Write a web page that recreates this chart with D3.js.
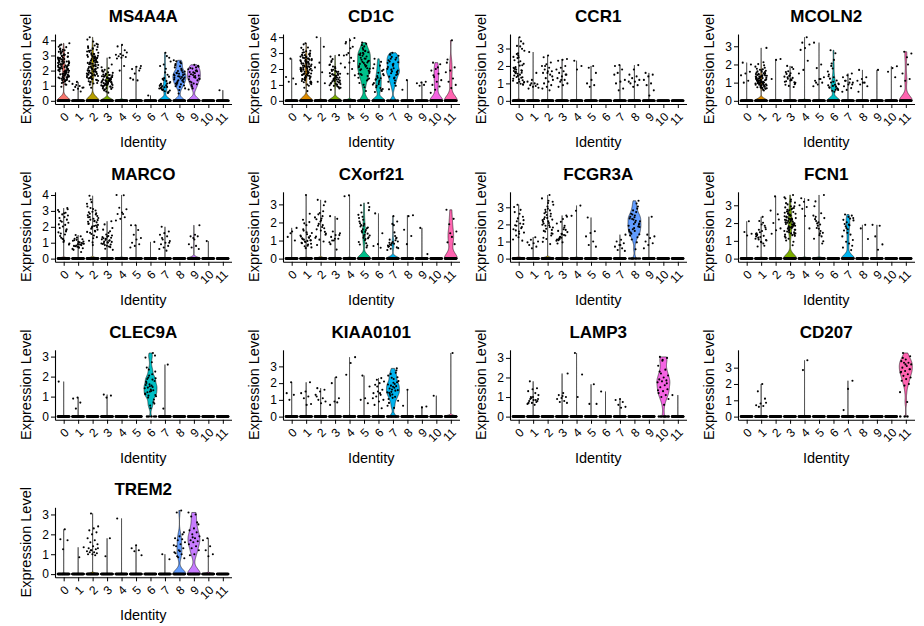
<!DOCTYPE html>
<html>
<head>
<meta charset="utf-8">
<script src="https://cdn.jsdelivr.net/npm/d3@7"></script>
<style>
  body { margin: 0; background: #fff; }
  svg { display: block; }
  text { font-family: "Liberation Sans", Arial, Helvetica, sans-serif; fill: #000; }
</style>
</head>
<body>
<svg id="chart" width="924" height="626"></svg>
<script>
// ---- cluster identities, sizes and colours ----
const clusters = ["0", "1", "2", "3", "4", "5", "6", "7", "8", "9", "10", "11"];
const clusterCells = [2100, 1900, 1700, 1500, 1200, 1100, 1000, 900, 800, 600, 200, 150];
const clusterColors = ["#F8766D", "#DE8C00", "#B79F00", "#7CAE00", "#00BA38", "#00C08B",
                       "#00BFC4", "#00B4F0", "#619CFF", "#C77CFF", "#F564E3", "#FF64B0"];

// ---- genes, in panel order ----
const genes = ["MS4A4A", "CD1C", "CCR1", "MCOLN2", "MARCO", "CXorf21", "FCGR3A",
               "FCN1", "CLEC9A", "KIAA0101", "LAMP3", "CD207", "TREM2"];

// For each gene: fraction of cells with non-zero expression per cluster,
// and the non-zero expression values of cells per cluster (space separated).
const MS4A4A_pct = [0.4, 0.02, 0.4, 0.35, 0.008, 0.01, 0.003, 0.45, 0.8, 0.75, 0, 0.01];
const MS4A4A_vals = [
  "2.31 1.74 3.12 2.05 1.42 2.66 3.55 1.18 2.48 1.96 2.83 1.61 3.38 2.22 1.35 2.74 1.88 3.02 2.57 1.53 2.14 3.81 1.27 2.39 2.91 1.69 3.24 2.01 1.46 2.62 1.92 3.67 2.27 1.58 2.79 1.09 2.44 3.16 1.81 2.18 1.38 2.96 2.53 1.66 3.45 2.09 1.23 2.71 1.99 0.93 2.35 3.08 1.49 2.6 1.77 2.87 1.31 3.3 2.12 1.56 2.42 1.85 2.98 1.63 2.24 3.41 1.52 2.69 2.03 1.79 3.19 2.36 1.44 2.81 1.97 2.58 1.29 3.05 2.15 1.72 2.47 3.58 1.91 2.29 1.6 2.76 2.07 1.39 3.26 2.51 1.84 2.19 2.93 1.47 2.64 1.06 2.4 1.99 3.35 1.75 2.11 2.85 1.54 2.33 3.72 1.68 2.56 1.95 2.2 1.36",
  "1.25 1.12 0.98 0.92 0.86 0.8 0.72 0.62 1.05 0.88",
  "2.12 3.05 1.64 2.78 4.21 1.37 2.45 3.6 1.92 2.26 2.98 1.15 3.31 2.58 1.8 4.05 2.07 1.51 2.86 3.44 1.72 2.39 0.86 3.18 2.63 1.98 3.77 1.43 2.51 2.94 1.26 2.19 3.92 1.86 2.71 1.58 3.26 2.33 1.07 2.82 1.69 3.5 2.04 2.67 1.33 3.1 2.42 1.9 2.15 1.76 3.66 1.21 2.55 2.9 1.47 2.29 3.15 1.81 2.66 1.52 3.38 2.08 2.91 1.67 2.47 3.72 1.94 2.23 1.39 2.76 3.02 1.73 2.54 1.18 3.47 2.13 2.83 1.61 2.37 1.96 3.24 2.6 1.45 2.02 2.89 1.84 3.56 2.31 1.29 2.7 2.17 1.56 3.09 2.44 1.78 2.97 1.99 2.52 3.33 1.64",
  "1.42 0.95 1.78 1.21 2.15 0.72 1.56 1.08 1.34 2.85 1.67 0.88 1.19 1.92 1.45 0.61 1.28 1.71 1.03 2.4 1.51 0.82 1.36 1.15 1.85 0.54 1.62 1.25 1.01 2.02 1.39 0.77 1.58 1.12 1.74 0.93 1.31 2.22 1.48 0.68 1.22 1.55 0.98 1.71 1.36 1.05 1.88 1.17 1.44 0.84 1.63 1.29 2.05 1.11 1.52 0.91 1.4 1.76 1.02 1.33 1.59 0.79 1.25 1.95 1.47 1.09 1.68 1.2 0.97 1.38",
  "3.7 3.6 3.35 3.1 3.05 3.0 2.95 2.9 2.85 2.8 2.3 2.0 3.2",
  "2.3 2.25 2.1 2.0 1.8 1.5 1.35 1.4 2.15",
  "0.35",
  "0.92 1.45 0.68 3.18 1.12 0.55 2.4 0.81 1.31 0.97 2.85 0.63 1.06 1.72 0.74 1.24 2.12 0.88 0.59 1.5 0.99 2.96 0.71 1.18 1.88 0.84 0.52 1.38 2.6 1.02 0.77 1.6 0.9 2.3 1.15",
  "1.52 2.05 1.21 1.76 0.92 2.43 1.38 1.63 2.68 1.09 1.85 1.45 0.71 2.21 1.57 1.29 1.94 2.56 1.14 1.7 0.48 1.41 2.12 1.82 1.01 1.6 2.35 1.33 1.97 0.82 1.48 2.61 1.25 1.79 1.67 2.0 1.18 1.54 2.29 0.96 1.88 1.36 1.73 2.48 1.06",
  "1.88 1.42 2.21 1.05 1.67 2.38 1.28 1.95 0.82 2.09 1.53 1.76 2.31 1.15 1.61 2.02 0.94 1.47 1.83 2.17 1.35 1.71 0.75 1.99 1.22 2.26 1.57 1.9 1.1 2.13 1.44 1.64",
  "",
  "0.7"
];

const CD1C_pct = [0.01, 0.35, 0.01, 0.3, 0.01, 0.85, 0.6, 0.9, 0.005, 0.01, 0.5, 0.35];
const CD1C_vals = [
  "2.65 1.5 1.4 1.2 1.05",
  "2.12 1.45 2.78 1.83 3.21 1.12 2.43 1.97 2.65 0.82 2.28 1.66 3.02 1.38 2.51 2.04 1.74 3.55 1.21 2.36 2.89 1.57 2.16 1.91 0.61 2.71 1.48 2.58 3.33 1.8 2.22 1.05 2.47 1.63 2.95 1.29 2.08 2.66 1.95 1.52 3.12 2.33 0.95 1.71 2.55 2.01 1.36 2.82 3.62 1.87 2.4 1.17 2.19 2.25 1.62 2.91 1.33 2.55 1.88 2.07 3.15 1.49 2.38 1.76 2.69 1.15 2.14 2.84 1.95 1.41 2.49 3.35 1.68 2.02 2.76 1.25 2.31 1.83 2.62 1.02 2.2 2.98 1.55 1.9 2.44 3.05 1.72 2.11 1.37 2.58 2.87 1.98 1.6 2.35 1.2 2.72 1.85 2.17",
  "4.0 3.4 2.4 2.1 1.8 1.2 1.1",
  "1.51 1.12 1.83 0.94 2.25 1.34 1.67 0.78 1.42 2.78 1.21 1.95 1.05 1.58 2.51 0.86 1.29 1.74 1.46 2.62 1.17 2.05 0.69 1.63 1.38 2.35 1.01 1.88 2.87 1.25 1.55 0.91 2.15 1.7 1.09 2.44 1.35 1.62 0.98 1.82 1.22 1.47 2.12 1.08 1.71 1.3 0.82 1.58 1.95 1.15 1.41 2.28 1.02 1.66 1.27 1.88",
  "3.95 3.8 3.6 3.4 3.0 2.85 2.7 2.9 2.5 2.4 2.1 2.0 1.7 1.6 3.3 3.7",
  "2.45 1.82 3.12 2.71 1.34 2.95 2.18 3.58 1.62 2.52 0.85 2.88 2.05 3.31 1.45 2.64 1.98 3.05 2.37 1.12 2.79 3.66 1.75 2.26 2.99 1.56 3.21 2.11 0.62 2.58 1.89 3.42 2.32 1.28 2.83 2.02 3.15 1.68 2.49 1.01 2.91 2.2 3.5 1.4 2.66 1.93 2.41 3.02 1.7 2.15",
  "1.42 0.85 1.95 1.18 2.64 0.62 1.55 1.02 2.21 1.33 0.74 1.76 1.11 2.45 0.95 1.61 1.27 0.55 1.88 1.45 2.05 0.81 1.36 1.68 1.05 2.3 0.68",
  "2.05 1.52 2.71 1.85 2.38 1.12 2.92 1.68 2.21 2.55 0.95 1.96 2.83 1.41 2.47 1.79 3.02 2.13 1.28 2.64 1.91 2.32 0.72 1.62 2.76 2.01 1.47 2.9 1.83 2.28 1.2 2.59 1.73 2.42",
  "1.3 0.7",
  "1.2 1.15 1.1 1.0 0.95",
  "2.4 2.3 2.0 1.9 1.7 1.5 1.3 1.2 1.0 0.9 0.7 0.5 2.1 1.6",
  "3.8 2.6 2.1 1.9 1.8 1.4 1.2 1.0 0.8 2.4"
];

const CCR1_pct = [0.015, 0.01, 0.012, 0.012, 0.005, 0.005, 0, 0.01, 0.01, 0.01, 0, 0];
const CCR1_vals = [
  "1.72 2.45 1.15 3.12 1.58 0.95 2.21 1.86 1.32 2.68 1.05 3.65 1.67 2.04 1.43 2.52 0.98 1.79 3.28 1.24 2.33 1.61 1.02 2.87 1.5 1.93 1.18 2.6 1.71 3.41 1.37 2.12 1.1 1.83 2.98 1.55 1.27 2.27 1.66 0.92 2.49 1.45 1.75 3.15 1.08 2.02 1.63 1.35 2.72 1.9",
  "2.8 1.6 1.2 1.1 1.0 0.9 0.95 0.8 0.7 0.85 1.0 0.75",
  "2.6 2.5 2.2 2.1 2.0 1.9 1.8 1.7 1.6 1.6 1.5 1.3 1.2 1.1 1.0 0.9 0.8 0.7 0.6 2.0 1.4 1.7",
  "2.4 2.35 2.3 2.0 1.9 1.8 1.7 1.6 1.5 1.4 1.3 1.2 1.1 1.0 0.9 0.8 1.5 1.2",
  "2.3 2.0 1.8",
  "2.0 1.9 1.6 1.2 1.0 0.9 0.8",
  "",
  "2.05 2.0 1.8 1.6 1.2 1.1 1.0 0.7 0.6 1.5",
  "2.05 1.8 1.5 1.4 1.3 1.2 1.1 1.0 0.9 0.8 1.1",
  "1.6 1.5 1.4 1.2 1.0 0.9 0.6 0.3",
  "",
  ""
];

const MCOLN2_pct = [0.01, 0.3, 0.005, 0.015, 0.005, 0.01, 0.5, 0.015, 0.01, 0.003, 0.005, 0.3];
const MCOLN2_vals = [
  "2.1 1.6 1.5 1.4 1.1 1.0 2.0",
  "1.05 1.42 0.78 1.71 0.95 1.25 2.02 0.66 1.15 1.56 0.88 1.33 2.91 0.72 1.08 1.82 0.99 1.47 0.61 1.21 1.65 0.84 1.12 1.95 0.92 1.38 0.7 1.02 1.52 0.81 1.29 2.12 0.96 1.18 1.6 0.75 1.43 1.01 0.89 1.74 1.11 0.68 1.35 1.24 0.57 1.12 0.85 1.36 0.98 1.58 0.76 1.22 1.04 1.45 0.91 1.68 1.15 0.82 1.29 1.88 0.95 1.06 1.39 0.72 1.19 1.52 0.88 1.27 1.02 1.62 0.79 1.09 1.33 0.94 1.48 1.16 0.86 1.76 1.01 1.24 0.69 1.41 0.97 1.13 1.31",
  "2.3 2.25 1.2",
  "1.21 0.95 1.52 1.08 1.75 0.82 1.33 1.14 1.92 1.02 1.41 0.88 1.26 1.63 0.99 1.18 1.48 0.76 1.37 1.05 1.85 1.29 0.91 1.12 1.58",
  "3.5 3.2 3.1 2.9 2.8 2.2 1.7 1.5",
  "3.2 2.0 1.8 1.3 1.2 1.1 1.0 0.9 0.8 1.2 1.0",
  "0.82 1.35 0.61 1.92 0.95 2.25 0.72 1.12 0.55 1.61 0.88 2.78 0.66 1.05 1.45 0.78 2.05 0.91 0.5 1.22 0.69 1.78 0.85 2.62 1.01 0.6 1.3 0.74",
  "1.5 1.4 1.3 1.2 1.1 1.0 0.9 0.8 0.7 0.6 0.5 1.0 1.1 0.9",
  "1.7 1.3 1.2 1.1 1.0 0.9 0.8 1.0 0.5",
  "1.7",
  "1.9 1.8 1.6 1.3",
  "2.7 2.6 2.4 1.5 1.2 1.1 0.8 2.0"
];

const MARCO_pct = [0.015, 0.02, 0.015, 0.02, 0.005, 0.005, 0.002, 0.01, 0, 0.1, 0.002, 0];
const MARCO_vals = [
  "2.85 1.92 2.45 1.25 3.05 2.12 1.58 2.71 1.05 2.95 1.78 2.32 0.88 2.61 1.42 3.18 2.02 1.65 2.88 1.31 2.25 1.12 2.55 1.85 2.78 0.95 1.52 2.38 3.1 1.21 2.15 1.71",
  "0.95 0.72 1.15 0.85 1.32 0.61 1.02 0.78 1.22 0.91 0.55 1.41 0.82 1.08 0.68 1.25 0.98 0.75 1.12 0.88 1.48 0.65 1.05 0.8 0.42 1.18 0.93",
  "2.45 1.82 3.12 2.21 2.78 1.55 3.45 2.05 2.62 1.35 2.95 2.32 1.71 3.72 2.12 2.51 1.12 2.85 1.95 3.28 2.38 1.62 2.68 0.85 2.18 3.02 1.88 2.55 1.45 3.95 2.28 2.02 2.72 1.75 3.18 2.42 1.28 2.91 2.08 3.55 1.68 2.35 2.82 1.98 1.02 2.6",
  "1.12 0.85 1.45 1.02 1.82 0.72 1.25 0.95 1.62 1.08 2.35 0.81 1.35 1.15 0.62 1.92 1.01 1.28 0.88 1.52 1.21 0.76 2.15 1.05 1.38 0.92 1.72 1.18 0.55 1.42 0.98 1.31",
  "4.0 3.98 3.2 3.1 2.9 2.8 2.6 2.5 2.4 2.8",
  "2.1 2.1 1.8 1.5 1.3 1.2 1.0 0.9 0.8 0.7",
  "1.05",
  "2.0 1.7 1.6 1.5 1.4 1.2 1.1 1.0 0.9 0.8 0.7 0.6 0.5 1.3 1.0",
  "",
  "2.1 1.5 1.4 1.4 1.3 0.9 0.8 0.7 0.6 1.2",
  "1.1",
  ""
];

const CXorf21_pct = [0.01, 0.02, 0.015, 0.015, 0.003, 0.4, 0.01, 0.3, 0.005, 0.002, 0, 0.5];
const CXorf21_vals = [
  "1.7 1.5 1.2 1.0 1.4",
  "1.05 0.82 1.45 1.12 2.02 0.95 1.28 0.71 1.62 1.02 3.52 0.88 1.18 1.95 0.62 1.35 1.08 2.48 0.92 1.22 0.78 1.55 1.01 1.85 0.85 1.15 0.68 1.42 0.98 2.15 1.25 0.58",
  "1.85 2.45 1.32 2.12 1.62 2.95 1.05 2.28 1.75 3.25 1.48 2.05 1.22 2.62 1.92 1.38 2.22 0.75 1.68 2.52 1.15 2.35 1.82 3.15 1.55 2.18 0.95",
  "2.35 2.2 1.5 1.4 1.3 1.2 1.1 1.0 0.9 0.5 1.0 1.3 1.1 0.8",
  "3.5 3.45",
  "1.72 1.15 2.25 0.85 1.52 2.68 1.32 1.95 0.72 1.62 2.42 1.08 1.85 3.08 1.25 2.05 0.62 1.45 2.85 1.02 1.78 1.38 2.15 0.92 1.58 2.55 1.18 1.92 0.78 1.68 2.32 1.28 1.48 2.95 1.12 1.82",
  "2.5 1.4 0.8 0.7 0.6",
  "0.82 1.05 0.62 1.92 0.72 1.25 0.55 0.95 2.35 0.68 1.12 0.85 0.48 1.45 0.78 2.05 0.92 0.65 1.02 0.75 0.58 1.85 0.88 1.15",
  "2.4 2.35 1.6 1.25 0.8",
  "1.7 0.25",
  "",
  "2.7 2.2 1.9 1.5 1.2 0.9 0.8 1.4"
];

const FCGR3A_pct = [0.015, 0.01, 0.02, 0.015, 0.005, 0.005, 0, 0.015, 0.95, 0.01, 0, 0];
const FCGR3A_vals = [
  "1.92 2.25 1.45 2.72 1.85 3.15 1.12 2.05 1.65 2.45 1.25 3.02 1.78 2.18 1.52 2.62 1.95 1.05 2.35 1.72 2.85 1.35 2.02 1.58",
  "1.25 1.1 1.0 0.9 0.8 0.7 0.6 0.95",
  "2.25 1.85 2.85 1.45 3.25 2.05 2.62 1.15 3.52 1.95 2.42 1.68 3.05 2.15 0.85 2.72 1.82 3.38 2.32 1.35 2.55 1.98 3.72 1.58 2.28 2.92 1.22 2.48 1.75 3.15 2.08 2.65 1.48 2.38 0.98 2.82 1.92 3.32 2.18 1.62",
  "1.45 1.12 1.82 1.25 2.45 0.95 1.62 1.35 2.15 1.05 1.72 1.18 2.52 1.42 0.88 1.92 1.28 1.55 2.32 1.08 1.68 1.22 2.05 1.38 1.15",
  "3.1 2.8 2.5",
  "2.4 1.6 1.5 1.3 1.0 0.8 0.7",
  "",
  "1.4 1.1 1.0 0.9 0.8 0.7 0.6 0.5 0.45 0.8",
  "2.05 1.62 2.45 1.25 2.82 1.92 2.21 1.45 3.38 1.78 2.35 0.95 2.58 1.85 2.12 1.52 3.05 2.28 1.68 2.72 1.12 1.98 2.42 1.35 2.92 1.72 2.18 0.55 2.62 1.88 2.02 1.58 3.22 2.32 1.42 2.52",
  "2.45 1.4 1.3 1.2 1.0 0.9 0.8 0.6",
  "",
  ""
];

const FCN1_pct = [0.005, 0.02, 0.005, 0.45, 0.005, 0.012, 0, 0.45, 0.004, 0.005, 0, 0];
const FCN1_vals = [
  "2.1 1.5 1.4 1.3",
  "1.25 0.85 1.62 1.05 1.92 1.35 0.72 1.48 1.12 2.35 1.18 1.75 0.95 1.42 1.28 2.12 1.02 1.55 0.68 1.85 1.22 1.38 2.02 1.08 1.65 0.92 1.32",
  "3.5 2.7 2.5 2.0 1.7 1.6 1.4 2.2",
  "1.92 2.45 1.35 2.82 1.68 3.15 2.12 1.02 2.62 1.82 3.45 2.25 1.52 2.95 1.75 2.05 0.75 2.55 1.42 3.32 2.35 1.88 2.72 1.25 2.18 3.05 1.62 2.42 1.95 3.58 1.12 2.28 1.78 2.65 1.48 2.02 2.88 1.32 2.52 1.85 3.22 2.15 0.95 1.58 2.38 1.72 2.75 1.98 2.22 1.18 2.08 1.75 2.52 1.42 2.31 2.85 1.65 2.18 1.92 2.65 1.28 2.42 3.12 1.85 2.25 1.55 2.78 2.02 1.38 2.48 3.38 1.78 2.12 1.62 2.95 2.35 1.98 1.48 2.58 2.22",
  "3.4 3.3 3.2 3.0 2.9 2.8 1.7 2.4",
  "1.92 2.35 1.45 2.05 1.12 2.55 1.72 3.58 1.32 2.22 0.85 1.85 2.42 1.55 2.12 0.98 1.68 2.95 1.25 1.98 2.28 1.42 3.22",
  "",
  "1.72 2.15 0.85 1.95 2.42 1.45 0.62 2.25 1.82 1.05 2.35 1.58 0.48 2.05 1.25 1.88 2.48 0.72 1.65 2.18 1.35 0.95 2.28 1.92",
  "1.9 1.7 1.1",
  "1.9 1.85 1.25 0.8 0.5",
  "",
  ""
];

const CLEC9A_pct = [0.002, 0.003, 0, 0.003, 0, 0, 0.97, 0.002, 0, 0, 0, 0];
const CLEC9A_vals = [
  "1.75",
  "0.95 0.9 0.7 0.4",
  "",
  "1.1 1.05 0.95",
  "",
  "",
  "1.52 1.12 1.85 0.95 2.25 1.35 1.68 0.72 2.05 1.42 2.72 1.22 1.78 0.55 1.58 3.18 1.05 1.92 1.28 2.45 0.85 1.62 1.15 2.12 1.45 3.05 0.42 1.75 1.32 2.35 1.02 1.55 1.88 0.65 1.25 2.95 1.48 1.95 1.08",
  "2.6 0.4",
  "",
  "",
  "",
  ""
];

const KIAA0101_pct = [0.005, 0.005, 0.006, 0.005, 0.003, 0.005, 0.012, 0.9, 0.003, 0.002, 0.002, 0.003];
const KIAA0101_vals = [
  "2.05 1.4 1.3 1.0",
  "2.05 1.5 1.4 1.2 1.1 0.75 0.7",
  "1.7 1.6 1.5 1.3 1.1 1.0 0.9 0.8 1.2",
  "2.35 2.0 1.1 0.9 0.7 0.85",
  "3.55 3.2 2.5",
  "2.45 1.8 1.1 1.0 0.8",
  "2.3 2.2 2.1 2.0 1.9 1.6 1.5 1.4 1.3 1.2 1.0 0.9 0.7 0.5 1.8 1.1 1.4",
  "1.72 1.35 2.05 1.12 2.45 1.55 1.85 0.95 2.25 1.42 2.75 1.62 0.65 1.95 1.25 2.35 1.78 1.05 2.62 1.48 2.12 0.52 1.68 2.88 1.32 1.92 1.18 2.55 1.58 2.02 0.82 1.82 2.32 1.45",
  "1.6 0.65",
  "0.6 0.55",
  "1.25",
  "3.8"
];

const LAMP3_pct = [0, 0.02, 0, 0.008, 0.002, 0.002, 0.002, 0.005, 0, 0, 0.95, 0.002];
const LAMP3_vals = [
  "",
  "1.8 1.45 1.4 1.3 1.2 1.0 0.9 0.85 0.8 0.75 0.7 0.65 0.6 0.9 0.8 1.0 0.7 0.85 0.95 1.1",
  "",
  "2.2 1.2 1.1 1.0 0.95 0.9 0.8 0.75 0.7 1.05",
  "3.25 2.15 1.0",
  "1.65 0.65 0.65",
  "1.28",
  "0.9 0.85 0.75 0.6 0.5 0.45",
  "",
  "",
  "3.05 3.0 2.9 2.6 2.4 2.2 2.1 2.0 1.9 1.85 1.8 1.75 1.6 1.5 1.4 1.3 1.2 1.1 1.0 0.9 0.6 2.3 1.7 2.85 1.35",
  "1.1"
];

const CD207_pct = [0, 0.004, 0, 0, 0.002, 0, 0, 0.003, 0, 0, 0, 0.98];
const CD207_vals = [
  "",
  "2.0 1.55 1.1 0.8 0.7 0.65 0.6 0.85",
  "",
  "",
  "3.45 2.85",
  "",
  "",
  "2.2 1.7 0.4",
  "",
  "",
  "",
  "3.9 3.7 3.5 3.4 3.3 3.3 3.2 3.1 3.0 2.9 2.8 2.7 2.6 2.5 2.4 2.3 2.2 2.0 1.9 1.5 0.9 3.6 2.9 3.2 2.75"
];

const TREM2_pct = [0.004, 0.002, 0.02, 0.002, 0.001, 0.004, 0, 0.002, 0.5, 0.7, 0.01, 0];
const TREM2_vals = [
  "2.25 1.75 1.7 1.25",
  "1.35 0.85",
  "3.05 2.4 2.3 2.2 2.1 2.0 1.8 1.7 1.6 1.5 1.4 1.3 1.25 1.2 1.15 1.1 1.1 1.05 1.0 1.0 0.95 1.2 1.3",
  "1.8 0.9",
  "2.8",
  "1.45 1.3 1.2 1.15 0.95",
  "",
  "1.0 0.75",
  "3.2 3.1 2.1 1.9 1.8 1.75 1.7 1.6 1.5 1.4 1.3 1.2 1.1 1.0 0.9 0.8 1.15 1.05 2.0 0.85 1.45",
  "3.1 3.0 2.9 2.5 2.3 2.2 2.1 2.0 1.9 1.8 1.7 1.65 1.6 1.5 1.4 1.3 1.2 1.0 0.95 2.6 1.85",
  "1.8 1.7 1.4 1.2 1.0 0.9",
  ""
];

// ---- assemble panels ----
const parseVals = s => s.trim() ? s.trim().split(/\s+/).map(Number) : [];
const geneData = {
  MS4A4A: [MS4A4A_pct, MS4A4A_vals], CD1C: [CD1C_pct, CD1C_vals], CCR1: [CCR1_pct, CCR1_vals],
  MCOLN2: [MCOLN2_pct, MCOLN2_vals], MARCO: [MARCO_pct, MARCO_vals], CXorf21: [CXorf21_pct, CXorf21_vals],
  FCGR3A: [FCGR3A_pct, FCGR3A_vals], FCN1: [FCN1_pct, FCN1_vals], CLEC9A: [CLEC9A_pct, CLEC9A_vals],
  KIAA0101: [KIAA0101_pct, KIAA0101_vals], LAMP3: [LAMP3_pct, LAMP3_vals], CD207: [CD207_pct, CD207_vals],
  TREM2: [TREM2_pct, TREM2_vals]
};
const panels = genes.map(g => ({
  gene: g,
  pct: geneData[g][0],
  vals: geneData[g][1].map(parseVals)
}));

// ---- layout ----
const axisLeftX = [55, 283, 510, 738];
const rowBottom = [104, 261.8, 419.8, 577.3];
const plotW = 176.5, plotH = 70;
const jitterFrac = 0.4;      // jitter half-width as fraction of band

const svg = d3.select("#chart");

// Kernel density violin profile (mass at zero for non-expressing cells)
function violinProfile(vals, pct, nCells) {
  if (!vals.length || pct <= 0) return null;
  const s = vals.slice().sort(d3.ascending);
  const m = s.length, z = 1 - pct;
  const mean = pct * d3.mean(s);
  const ex2 = pct * d3.mean(s, v => v * v);
  const sd = Math.sqrt(Math.max(ex2 - mean * mean, 0));
  const q = t => t <= z ? 0 : d3.quantileSorted(s, (t - z) / pct);
  const iqr = q(0.75) - q(0.25);
  let lo = Math.min(sd, iqr / 1.34);
  if (!lo) lo = sd || 1;
  const bw = 0.9 * lo * Math.pow(nCells, -0.2);
  const top = s[m - 1];
  const K = u => Math.exp(-0.5 * u * u);
  const n = 256;
  const prof = d3.range(n + 1).map(i => {
    const t = top * i / n;
    const d = z * K(t / bw) + (pct / m) * d3.sum(s, v => K((t - v) / bw));
    return { t, d };
  });
  const mx = d3.max(prof, p => p.d);
  prof.forEach(p => p.r = p.d / mx);
  return prof;
}

// deterministic spread in [-0.5, 0.5)
const spread = (i, seed) => ((i * 0.6180339887 + seed * 0.3819660113) % 1) - 0.5;

panels.forEach((p, idx) => {
  const col = idx % 4, row = Math.floor(idx / 4);
  const left = axisLeftX[col], bottom = rowBottom[row];
  const g = svg.append("g");

  const x = d3.scalePoint().domain(clusters).range([left, left + plotW]).padding(0.6);
  const step = x.step();
  const R = d3.max(p.vals.flat());
  const y = d3.scaleLinear().domain([-0.05 * R, 1.05 * R]).range([bottom, bottom - plotH]);

  // violins
  p.vals.forEach((vals, k) => {
    const prof = violinProfile(vals, p.pct[k], clusterCells[k]);
    if (!prof) return;
    const cx = x(clusters[k]);
    const half = 0.45 * step;
    const area = d3.area()
      .x0(d => cx - d.r * half)
      .x1(d => cx + d.r * half)
      .y(d => y(d.t));
    g.append("path")
      .attr("d", area(prof))
      .attr("fill", clusterColors[k])
      .attr("stroke", "#111")
      .attr("stroke-width", 0.55);
  });

  // jittered cells
  p.vals.forEach((vals, k) => {
    const cx = x(clusters[k]);
    const pct = p.pct[k];
    const nZero = pct >= 1 ? 0 : Math.round(34 * Math.min(1, (1 - pct) * 5));
    const cells = d3.range(nZero).map(() => 0).concat(vals);
    g.append("g").selectAll("circle").data(cells).join("circle")
      .attr("cx", (d, i) => cx + spread(i, k + idx) * 2 * jitterFrac * step)
      .attr("cy", d => y(d))
      .attr("r", d => d === 0 ? 1.25 : 1.05)
      .attr("fill", "#000");
  });

  // y axis
  const yAxis = g.append("g")
    .attr("transform", `translate(${left},0)`)
    .call(d3.axisLeft(y).tickValues(d3.range(0, Math.floor(R) + 1)).tickFormat(d3.format("d"))
      .tickSize(4).tickSizeOuter(0).tickPadding(2));
  yAxis.select(".domain").attr("stroke", "#000").attr("stroke-width", 1.1);
  yAxis.selectAll(".tick line").attr("stroke", "#000").attr("stroke-width", 1);
  yAxis.selectAll(".tick text").attr("font-size", 12).attr("fill", "#000")
    .attr("font-family", '"Liberation Sans", Arial, sans-serif');

  // x axis
  const xAxis = g.append("g")
    .attr("transform", `translate(0,${bottom})`)
    .call(d3.axisBottom(x).tickSize(4).tickSizeOuter(0));
  xAxis.select(".domain").attr("stroke", "#000").attr("stroke-width", 1.1);
  xAxis.selectAll(".tick line").attr("stroke", "#000").attr("stroke-width", 1);
  xAxis.selectAll(".tick text")
    .attr("font-size", 12).attr("fill", "#000")
    .attr("font-family", '"Liberation Sans", Arial, sans-serif')
    .attr("x", 0).attr("y", 0).attr("dy", 0)
    .attr("text-anchor", "end")
    .attr("transform", "translate(5.5,13.5) rotate(-45)");

  // titles
  g.append("text")
    .attr("x", left + plotW / 2).attr("y", bottom - 82)
    .attr("text-anchor", "middle")
    .attr("font-size", 17).attr("font-weight", "bold")
    .text(p.gene);
  g.append("text")
    .attr("transform", `translate(${left - 24},${bottom - plotH / 2}) rotate(-90)`)
    .attr("text-anchor", "middle")
    .attr("font-size", 14.5)
    .text("Expression Level");
  g.append("text")
    .attr("x", left + plotW / 2).attr("y", bottom + 43)
    .attr("text-anchor", "middle")
    .attr("font-size", 14.5)
    .text("Identity");
});
</script>
</body>
</html>
